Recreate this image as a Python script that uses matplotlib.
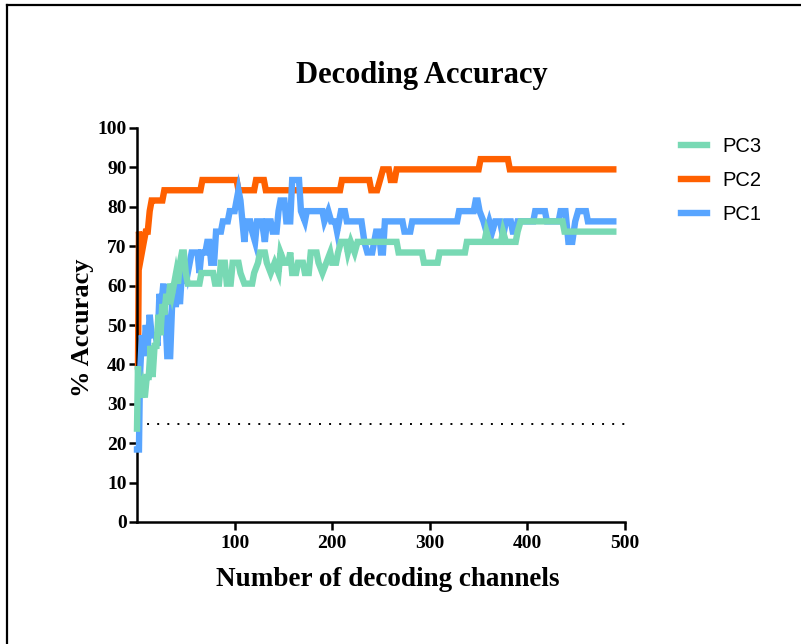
import matplotlib
matplotlib.use("Agg")
import matplotlib.pyplot as plt
from matplotlib.lines import Line2D

# decoding accuracy (%) vs number of channels used
pc1_ch = [0, 2, 3, 5, 7, 9, 11, 13, 15, 19, 21, 23, 25, 27, 29, 31, 34, 36, 40, 42,
          44, 46, 48, 50, 52, 56, 62, 64, 66, 70, 72, 74, 76, 79, 81, 86, 88, 93, 95, 100,
          102, 104, 106, 108, 110, 112, 116, 118, 121, 123, 128, 131, 133, 137, 139, 143,
          145, 147, 151, 153, 157, 159, 166, 168, 172, 174, 190, 192, 196, 199, 203, 205,
          207, 209, 213, 215, 230, 233, 236, 241, 243, 245, 248, 250, 252, 254, 272, 274,
          280, 282, 328, 330, 345, 347, 349, 351, 355, 358, 361, 364, 367, 372, 374, 376,
          378, 383, 385, 388, 390, 406, 408, 418, 420, 432, 434, 439, 442, 446, 449, 452,
          460, 462, 488]
pc1_acc = [18.4, 18.4, 36.8, 47.4, 42.1, 50.0, 44.7, 52.6, 47.4, 47.4, 44.7, 57.9, 55.3,
           60.5, 52.6, 42.1, 42.1, 55.3, 55.3, 60.5, 55.3, 63.2, 60.5, 65.8, 63.2, 68.4,
           68.4, 63.2, 68.4, 68.4, 71.1, 71.1, 65.8, 65.8, 73.7, 73.7, 76.3, 76.3, 78.9,
           78.9, 81.6, 84.2, 81.6, 76.3, 71.1, 76.3, 76.3, 73.7, 71.1, 76.3, 76.3, 71.1,
           76.3, 76.3, 73.7, 73.7, 78.9, 81.6, 81.6, 76.3, 76.3, 86.8, 86.8, 78.9, 76.3,
           78.9, 78.9, 76.3, 78.9, 76.3, 76.3, 73.7, 76.3, 78.9, 78.9, 76.3, 76.3, 71.1,
           68.4, 68.4, 71.1, 73.7, 73.7, 68.4, 68.4, 76.3, 76.3, 73.7, 73.7, 76.3, 76.3,
           78.9, 78.9, 81.6, 81.6, 78.9, 76.3, 73.7, 76.3, 73.7, 76.3, 76.3, 73.7, 73.7,
           76.3, 76.3, 73.7, 73.7, 76.3, 76.3, 78.9, 78.9, 76.3, 76.3, 78.9, 78.9, 71.1,
           71.1, 76.3, 78.9, 78.9, 76.3, 76.3]

pc2_ch = [1, 2, 3, 5, 7, 9, 11, 13, 15, 17, 26, 28, 65, 67, 102, 104, 120, 122, 130, 132,
          208, 210, 238, 240, 246, 249, 252, 258, 260, 264, 266, 350, 352, 380, 382, 488]
pc2_acc = [39.5, 73.7, 71.1, 68.4, 71.1, 73.7, 73.7, 78.9, 81.6, 81.6, 81.6, 84.2, 84.2,
           86.8, 86.8, 84.2, 84.2, 86.8, 86.8, 84.2, 84.2, 86.8, 86.8, 84.2, 84.2, 86.8,
           89.5, 89.5, 86.8, 86.8, 89.5, 89.5, 92.1, 92.1, 89.5, 89.5]

pc3_ch = [0, 1, 2, 3, 4, 6, 8, 10, 12, 14, 16, 18, 20, 22, 24, 26, 28, 30, 32, 34, 36, 38,
          40, 42, 44, 46, 48, 50, 52, 64, 66, 78, 80, 84, 86, 90, 92, 96, 98, 104, 106, 110,
          118, 120, 124, 126, 131, 133, 137, 141, 145, 147, 151, 155, 157, 159, 163, 165,
          170, 172, 176, 178, 184, 186, 190, 194, 198, 200, 204, 206, 209, 214, 216, 219,
          223, 226, 266, 268, 292, 294, 308, 310, 336, 338, 356, 358, 361, 373, 375, 378,
          388, 390, 393, 436, 438, 488]
pc3_acc = [23.7, 39.5, 31.6, 36.8, 31.6, 34.2, 31.6, 36.8, 36.8, 44.7, 36.8, 44.7, 44.7,
           52.6, 47.4, 55.3, 52.6, 57.9, 55.3, 60.5, 57.9, 60.5, 63.2, 60.5, 65.8, 68.4,
           68.4, 63.2, 60.5, 60.5, 63.2, 63.2, 60.5, 60.5, 65.8, 65.8, 60.5, 60.5, 65.8,
           65.8, 63.2, 60.5, 60.5, 63.2, 65.8, 68.4, 68.4, 65.8, 63.2, 65.8, 63.2, 68.4,
           65.8, 65.8, 68.4, 63.2, 63.2, 65.8, 65.8, 63.2, 63.2, 68.4, 68.4, 65.8, 63.2,
           65.8, 68.4, 65.8, 65.8, 68.4, 71.1, 71.1, 68.4, 71.1, 68.4, 71.1, 71.1, 68.4,
           68.4, 65.8, 65.8, 68.4, 68.4, 71.1, 71.1, 73.7, 71.1, 71.1, 73.7, 71.1, 71.1,
           73.7, 76.3, 76.3, 73.7, 73.7]

chance_level = 25

serif = ['Liberation Serif', 'DejaVu Serif']
c_pc1 = '#58a5ff'
c_pc2 = '#ff6000'
c_pc3 = '#78d9b4'

fig = plt.figure(figsize=(8.01, 6.44), dpi=100)
ax = fig.add_axes([137 / 801, 1 - 522 / 644, 488 / 801, 394 / 644])

lw = 4.6
ax.plot(pc2_ch, pc2_acc, color=c_pc2, lw=lw, solid_joinstyle='miter', zorder=2, clip_on=False)
ax.plot(pc1_ch, pc1_acc, color=c_pc1, lw=lw, solid_joinstyle='miter', zorder=3, clip_on=False)
ax.plot(pc3_ch, pc3_acc, color=c_pc3, lw=lw, solid_joinstyle='miter', zorder=4, clip_on=False)
ax.axhline(chance_level, color='black', lw=1.4, linestyle=(0, (1, 4.2)), zorder=1)

ax.set_xlim(0, 500)
ax.set_ylim(0, 100)
ax.set_xticks([100, 200, 300, 400, 500])
ax.set_yticks(range(0, 101, 10))
for s in ['top', 'right']:
    ax.spines[s].set_visible(False)
for s in ['left', 'bottom']:
    ax.spines[s].set_linewidth(1.8)
ax.tick_params(direction='out', length=5.5, width=1.8, pad=2)
ax.tick_params(axis='x', pad=4)
for lab in ax.get_xticklabels() + ax.get_yticklabels():
    lab.set_fontfamily(serif)
    lab.set_fontweight('bold')
    lab.set_fontsize(14)

ax.set_xlabel('Number of decoding channels', family=serif, fontweight='bold', fontsize=19.5)
ax.xaxis.set_label_coords((388 - 137) / 488, -(580 - 522) / 394)
ax.xaxis.label.set_va('center')
ax.set_ylabel('% Accuracy', family=serif, fontweight='bold', fontsize=19)
ax.yaxis.set_label_coords(-(137 - 83) / 488, (522 - 328) / 394)
ax.yaxis.label.set_va('center')
fig.text(422 / 801, 1 - 75 / 644, 'Decoding Accuracy', family=serif, fontweight='bold',
         fontsize=22, ha='center', va='center')

handles = [Line2D([], [], color=c, lw=lw) for c in (c_pc3, c_pc2, c_pc1)]
leg = fig.legend(handles, ['PC3', 'PC2', 'PC1'], loc='upper left',
                 bbox_to_anchor=(681 / 801, 1 - 137 / 644), frameon=False,
                 prop={'family': ['Liberation Sans'], 'size': 14.5},
                 handlelength=1.3, handletextpad=0.75, labelspacing=0.75,
                 borderpad=0, borderaxespad=0)

# frame lines along the top and left edge
fig.add_artist(Line2D([7 / 801, 1], [1 - 5 / 644, 1 - 5 / 644], color='black', lw=1.6,
                      transform=fig.transFigure))
fig.add_artist(Line2D([7 / 801, 7 / 801], [0, 1 - 5 / 644], color='black', lw=1.6,
                      transform=fig.transFigure))

fig.savefig('out.png', dpi=100)
